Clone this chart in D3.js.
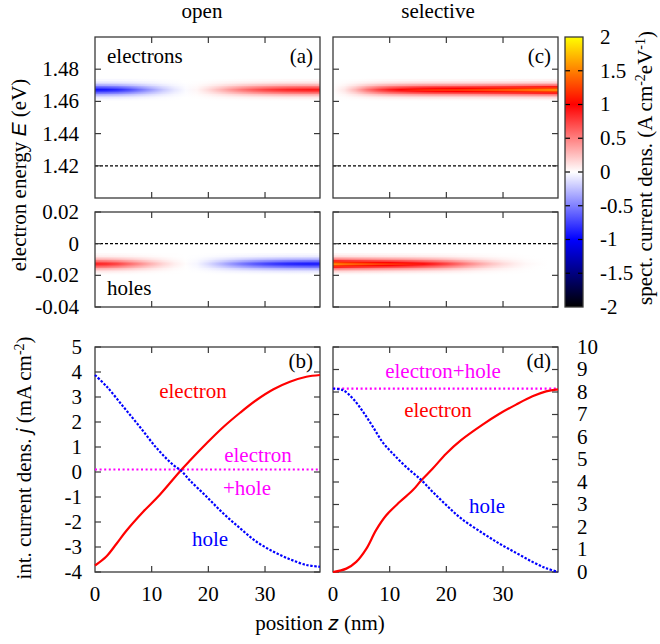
<!DOCTYPE html>
<html><head><meta charset="utf-8">
<script src="https://cdn.jsdelivr.net/npm/d3@7"></script>
</head><body style="margin:0">
<svg id="c" width="660" height="644"></svg>
<script>
// ---------------- data ----------------
const columnTitles = ["open", "selective"];
const panelTags = ["(a)", "(c)", "(b)", "(d)"];
const zDomain = [0, 39.7];
const zTicks = [0, 10, 20, 30];
const energyTicks = [1.42, 1.44, 1.46, 1.48];
const energyTickLabels = ["1.42", "1.44", "1.46", "1.48"];
const holeTicks = [-0.04, -0.02, 0, 0.02];
const holeTickLabels = ["-0.04", "-0.02", "0", "0.02"];
const jTicksOpen = [-4, -3, -2, -1, 0, 1, 2, 3, 4, 5];
const jTicksSel = [0, 1, 2, 3, 4, 5, 6, 7, 8, 9, 10];
const cbTicks = [-2, -1.5, -1, -0.5, 0, 0.5, 1, 1.5, 2];
const cbTickLabels = ["-2", "-1.5", "-1", "-0.5", "0", "0.5", "1", "1.5", "2"];

// spectral current maps: amplitude along z (at zHeat) times band line shape (at eOffsets)
const zHeat = [0, 2, 4, 6, 8, 10, 12, 14, 16, 18, 20, 22, 24, 26, 28, 30, 32, 34, 36, 38, 39.7];
const ampOpenElectrons = [-0.95, -0.92, -0.85, -0.72, -0.55, -0.38, -0.22, -0.1, -0.02, 0.04, 0.15, 0.28, 0.42, 0.55, 0.66, 0.75, 0.82, 0.87, 0.9, 0.92, 0.92];
const ampOpenHoles     = [0.9, 0.85, 0.75, 0.6, 0.45, 0.3, 0.17, 0.07, 0.01, -0.04, -0.15, -0.28, -0.42, -0.55, -0.66, -0.75, -0.82, -0.87, -0.9, -0.92, -0.92];
const ampSelElectrons  = [0.0, 0.1, 0.3, 0.55, 0.75, 0.9, 1.0, 1.08, 1.14, 1.18, 1.2, 1.22, 1.25, 1.28, 1.32, 1.36, 1.4, 1.45, 1.5, 1.55, 1.58];
const ampSelHoles      = [1.55, 1.45, 1.38, 1.32, 1.26, 1.2, 1.14, 1.07, 0.98, 0.88, 0.76, 0.62, 0.48, 0.35, 0.24, 0.15, 0.08, 0.03, 0.01, 0, 0];
const eStep = 0.001;
const eOffsets = [-0.006, -0.005, -0.004, -0.003, -0.002, -0.001, 0, 0.001, 0.002, 0.003, 0.004, 0.005, 0.006];
const bandProfile = [0.03, 0.08, 0.18, 0.35, 0.58, 0.82, 1.0, 0.82, 0.58, 0.35, 0.18, 0.08, 0.03];
const electronBandE = 1.4675;
const holeBandE = -0.0125;
const conductionEdgeE = 1.42;
const valenceEdgeE = 0;

// integrated current densities
const zOpenElectron = [0, 2.0, 3.76, 5.5, 8.5, 11.4, 15.2, 16.8, 19.7, 22.6, 25.6, 28.5, 31.5, 34.4, 37.3, 39.7];
const openElectron  = [-3.74, -3.38, -2.88, -2.36, -1.59, -0.92, 0.08, 0.47, 1.15, 1.79, 2.37, 2.88, 3.31, 3.61, 3.81, 3.88];
const zOpenHole     = [0, 2.1, 5.0, 7.9, 10.9, 13.8, 15.2, 16.8, 19.7, 22.6, 25.6, 28.5, 31.5, 34.4, 37.3, 39.7];
const openHole      = [3.88, 3.41, 2.61, 1.81, 0.95, 0.28, 0.05, -0.35, -0.99, -1.65, -2.25, -2.79, -3.19, -3.49, -3.72, -3.79];
const zOpenTotal = [0, 39.7];
const openTotal = [0.1, 0.1];

const zSelElectron = [0, 2.35, 4.1, 5.9, 7.6, 9.4, 11.8, 14.1, 15.6, 17.6, 20, 22.6, 26.4, 29.3, 32.3, 35.2, 37.6, 39.7];
const selElectron  = [0, 0.15, 0.45, 1.04, 1.86, 2.52, 3.12, 3.64, 4.08, 4.6, 5.27, 5.86, 6.55, 7.02, 7.44, 7.81, 8.03, 8.12];
const zSelHole     = [0, 1.76, 3.5, 5.3, 7.05, 8.8, 10.6, 12.9, 15.6, 17.6, 20, 22.6, 26.4, 29.3, 32.3, 35.2, 37.6, 39.7];
const selHole      = [8.15, 8.08, 7.71, 7.12, 6.45, 5.75, 5.25, 4.67, 4.08, 3.56, 2.97, 2.38, 1.73, 1.27, 0.85, 0.45, 0.17, 0];
const zSelTotal = [0, 39.7];
const selTotal = [8.15, 8.15];

// ---------------- layout ----------------
const svg = d3.select("#c");
const defs = svg.append("defs");
const FS = 21;
const SERIF_FONT = FS + "px 'Liberation Serif'";
const colL = {x0: 95, x1: 320}, colR = {x0: 333, x1: 558};
const rowE = {y0: 37, y1: 198}, rowH = {y0: 212, y1: 307}, rowJ = {y0: 347, y1: 572};
const cb = {x0: 565, x1: 583, y0: 37, y1: 307};
const TL = 6;
const frameColor = "#3a3a3a";

const xL = d3.scaleLinear().domain(zDomain).range([colL.x0, colL.x1]);
const xR = d3.scaleLinear().domain(zDomain).range([colR.x0, colR.x1]);
const yE = d3.scaleLinear().domain([1.40, 1.50]).range([rowE.y1, rowE.y0]);
const yH = d3.scaleLinear().domain([-0.04, 0.02]).range([rowH.y1, rowH.y0]);
const yJL = d3.scaleLinear().domain([-4, 5]).range([rowJ.y1, rowJ.y0]);
const yJR = d3.scaleLinear().domain([0, 10]).range([rowJ.y1, rowJ.y0]);
const yCB = d3.scaleLinear().domain([-2, 2]).range([cb.y1, cb.y0]);
const color = d3.scaleLinear().domain([-2, -1, 0, 1, 2])
  .range(["#000000", "#0000ff", "#ffffff", "#ff0000", "#ffff00"]).clamp(true);

let clipN = 0;
function clipFor(x, y) {
  const id = "clip" + (clipN++);
  defs.append("clipPath").attr("id", id).append("rect")
    .attr("x", x.range()[0]).attr("y", y.range()[1])
    .attr("width", x.range()[1] - x.range()[0]).attr("height", y.range()[0] - y.range()[1]);
  return id;
}

let gradN = 0;
function heat(x, y, amp, bandE) {
  const g = svg.append("g").attr("clip-path", `url(#${clipFor(x, y)})`);
  const xa = x(zDomain[0]), xb = x(zDomain[1]);
  eOffsets.forEach((off, i) => {
    const gid = "hg" + (gradN++);
    const grad = defs.append("linearGradient").attr("id", gid)
      .attr("gradientUnits", "userSpaceOnUse")
      .attr("x1", xa).attr("x2", xb).attr("y1", 0).attr("y2", 0);
    zHeat.forEach((z, j) => {
      grad.append("stop").attr("offset", (x(z) - xa) / (xb - xa))
        .attr("stop-color", color(amp[j] * bandProfile[i]));
    });
    const yTop = y(bandE + off + eStep / 2), yBot = y(bandE + off - eStep / 2);
    g.append("rect").attr("x", xa).attr("width", xb - xa)
      .attr("y", yTop).attr("height", yBot - yTop + 0.6)
      .attr("fill", `url(#${gid})`);
  });
}

function dashed(x, y, e) {
  svg.append("line").attr("x1", x(zDomain[0])).attr("x2", x(zDomain[1]))
    .attr("y1", y(e)).attr("y2", y(e))
    .attr("stroke", "#000").attr("stroke-width", 1.2).attr("stroke-dasharray", "3,2");
}

function frame(x, y, yTicks) {
  const g = svg.append("g");
  const [x0, x1] = x.range(), [yb, yt] = y.range();
  zTicks.filter(t => t > zDomain[0]).forEach(t => {
    g.append("line").attr("x1", x(t)).attr("x2", x(t)).attr("y1", yb).attr("y2", yb - TL);
    g.append("line").attr("x1", x(t)).attr("x2", x(t)).attr("y1", yt).attr("y2", yt + TL);
  });
  yTicks.forEach(t => {
    g.append("line").attr("x1", x0).attr("x2", x0 + TL).attr("y1", y(t)).attr("y2", y(t));
    g.append("line").attr("x1", x1).attr("x2", x1 - TL).attr("y1", y(t)).attr("y2", y(t));
  });
  g.selectAll("line").attr("stroke", frameColor).attr("stroke-width", 1.2);
  g.append("rect").attr("x", x0).attr("y", yt).attr("width", x1 - x0).attr("height", yb - yt)
    .attr("fill", "none").attr("stroke", frameColor).attr("stroke-width", 1.3);
}

function txt(x, y, s, opts) {
  opts = opts || {};
  return svg.append("text").attr("x", x).attr("y", y)
    .style("font", SERIF_FONT)
    .attr("text-anchor", opts.anchor || "start")
    .attr("dy", opts.dy || null)
    .attr("fill", opts.fill || "#000").text(s);
}

function yLabels(y, ticks, labels, xPos, anchor) {
  ticks.forEach((t, i) => txt(xPos, y(t), labels[i], {anchor: anchor, dy: "0.33em"}));
}

function xLabels(x) {
  zTicks.forEach(t => txt(x(t), 601, String(t), {anchor: "middle"}));
}

function curve(x, y, zs, vs, stroke, dash) {
  const line = d3.line().x((d, i) => x(zs[i])).y(d => y(d)).curve(d3.curveCatmullRom.alpha(0.5));
  const p = svg.append("path").attr("d", line(vs)).attr("fill", "none")
    .attr("stroke", stroke).attr("stroke-width", 2.2);
  if (dash) p.attr("stroke-dasharray", dash);
  return p;
}

// ---------------- heat maps ----------------
heat(xL, yE, ampOpenElectrons, electronBandE);
heat(xL, yH, ampOpenHoles, holeBandE);
heat(xR, yE, ampSelElectrons, electronBandE);
heat(xR, yH, ampSelHoles, holeBandE);
[xL, xR].forEach(x => { dashed(x, yE, conductionEdgeE); dashed(x, yH, valenceEdgeE); });
frame(xL, yE, energyTicks); frame(xR, yE, energyTicks);
frame(xL, yH, holeTicks); frame(xR, yH, holeTicks);
yLabels(yE, energyTicks, energyTickLabels, 79, "end");
yLabels(yH, holeTicks, holeTickLabels, 79, "end");

txt(107, 63, "electrons");
txt(107, 295, "holes");
txt(xL(zDomain[1]) - 7, 63, panelTags[0], {anchor: "end"});
txt(xR(zDomain[1]) - 7, 63, panelTags[1], {anchor: "end"});

// ---------------- colour bar ----------------
const cbGrad = defs.append("linearGradient").attr("id", "cbg")
  .attr("gradientUnits", "userSpaceOnUse").attr("x1", 0).attr("x2", 0)
  .attr("y1", yCB(-2)).attr("y2", yCB(2));
cbTicks.forEach(v => cbGrad.append("stop").attr("offset", (v + 2) / 4).attr("stop-color", color(v)));
svg.append("rect").attr("x", cb.x0).attr("y", cb.y0).attr("width", cb.x1 - cb.x0)
  .attr("height", cb.y1 - cb.y0).attr("fill", "url(#cbg)");
cbTicks.slice(1, -1).forEach(v => {
  svg.append("line").attr("x1", cb.x0).attr("x2", cb.x0 + 5).attr("y1", yCB(v)).attr("y2", yCB(v))
    .attr("stroke", "#000").attr("stroke-width", 1.2);
  svg.append("line").attr("x1", cb.x1).attr("x2", cb.x1 - 5).attr("y1", yCB(v)).attr("y2", yCB(v))
    .attr("stroke", "#000").attr("stroke-width", 1.2);
});
svg.append("rect").attr("x", cb.x0).attr("y", cb.y0).attr("width", cb.x1 - cb.x0)
  .attr("height", cb.y1 - cb.y0).attr("fill", "none").attr("stroke", frameColor).attr("stroke-width", 1.3);
yLabels(yCB, cbTicks, cbTickLabels, 600, "start");

// ---------------- integrated currents ----------------
frame(xL, yJL, jTicksOpen);
frame(xR, yJR, jTicksSel);
yLabels(yJL, jTicksOpen, jTicksOpen.map(String), 82, "end");
yLabels(yJR, jTicksSel, jTicksSel.map(String), 577, "start");
xLabels(xL); xLabels(xR);

curve(xL, yJL, zOpenTotal, openTotal, "#ff00ff", "2,2.6");
curve(xL, yJL, zOpenElectron, openElectron, "#ff0000", null);
curve(xL, yJL, zOpenHole, openHole, "#0000ff", "2.4,1.6");
curve(xR, yJR, zSelTotal, selTotal, "#ff00ff", "2,2.6");
curve(xR, yJR, zSelElectron, selElectron, "#ff0000", null);
curve(xR, yJR, zSelHole, selHole, "#0000ff", "2.4,1.6");

txt(193, 398, "electron", {fill: "#ff0000", anchor: "middle"});
txt(258, 462, "electron", {fill: "#ff00ff", anchor: "middle"});
txt(247, 495, "+hole", {fill: "#ff00ff", anchor: "middle"});
txt(210, 546, "hole", {fill: "#0000ff", anchor: "middle"});
txt(443, 378, "electron+hole", {fill: "#ff00ff", anchor: "middle"});
txt(438, 417, "electron", {fill: "#ff0000", anchor: "middle"});
txt(487, 513, "hole", {fill: "#0000ff", anchor: "middle"});
txt(xL(zDomain[1]) - 7, 368, panelTags[2], {anchor: "end"});
txt(xR(zDomain[1]) - 7, 368, panelTags[3], {anchor: "end"});

// ---------------- titles & axis labels ----------------
txt(202, 18, columnTitles[0], {anchor: "middle"});
txt(438, 18, columnTitles[1], {anchor: "middle"});

function rotLabel(x, y, parts) {
  const t = svg.append("text").attr("transform", `translate(${x},${y}) rotate(-90)`)
    .attr("text-anchor", "middle").style("font", SERIF_FONT);
  parts.forEach(p => {
    const s = t.append("tspan").text(p.t);
    if (p.it) s.style("font", "italic " + FS + "px 'Liberation Sans'");
    if (p.sup) s.style("font-size", "14px").attr("dy", "-0.5em");
    if (p.down) s.attr("dy", "0.35em");
  });
}
rotLabel(26, 175, [{t: "electron energy "}, {t: "E", it: true}, {t: " (eV)"}]);
rotLabel(31, 458, [{t: "int. current dens. "}, {t: "j", it: true}, {t: " (mA cm"}, {t: "-2", sup: true}, {t: ")", down: true}]);
rotLabel(652, 168, [{t: "spect. current dens. (A cm"}, {t: "-2", sup: true}, {t: "eV", down: true}, {t: "-1", sup: true}, {t: ")", down: true}]);

const xl = svg.append("text").attr("x", 320).attr("y", 630).attr("text-anchor", "middle")
  .style("font", SERIF_FONT);
xl.append("tspan").text("position ");
xl.append("tspan").text("z").style("font", "italic " + FS + "px 'Liberation Sans'");
xl.append("tspan").text(" (nm)");
</script>
</body></html>
